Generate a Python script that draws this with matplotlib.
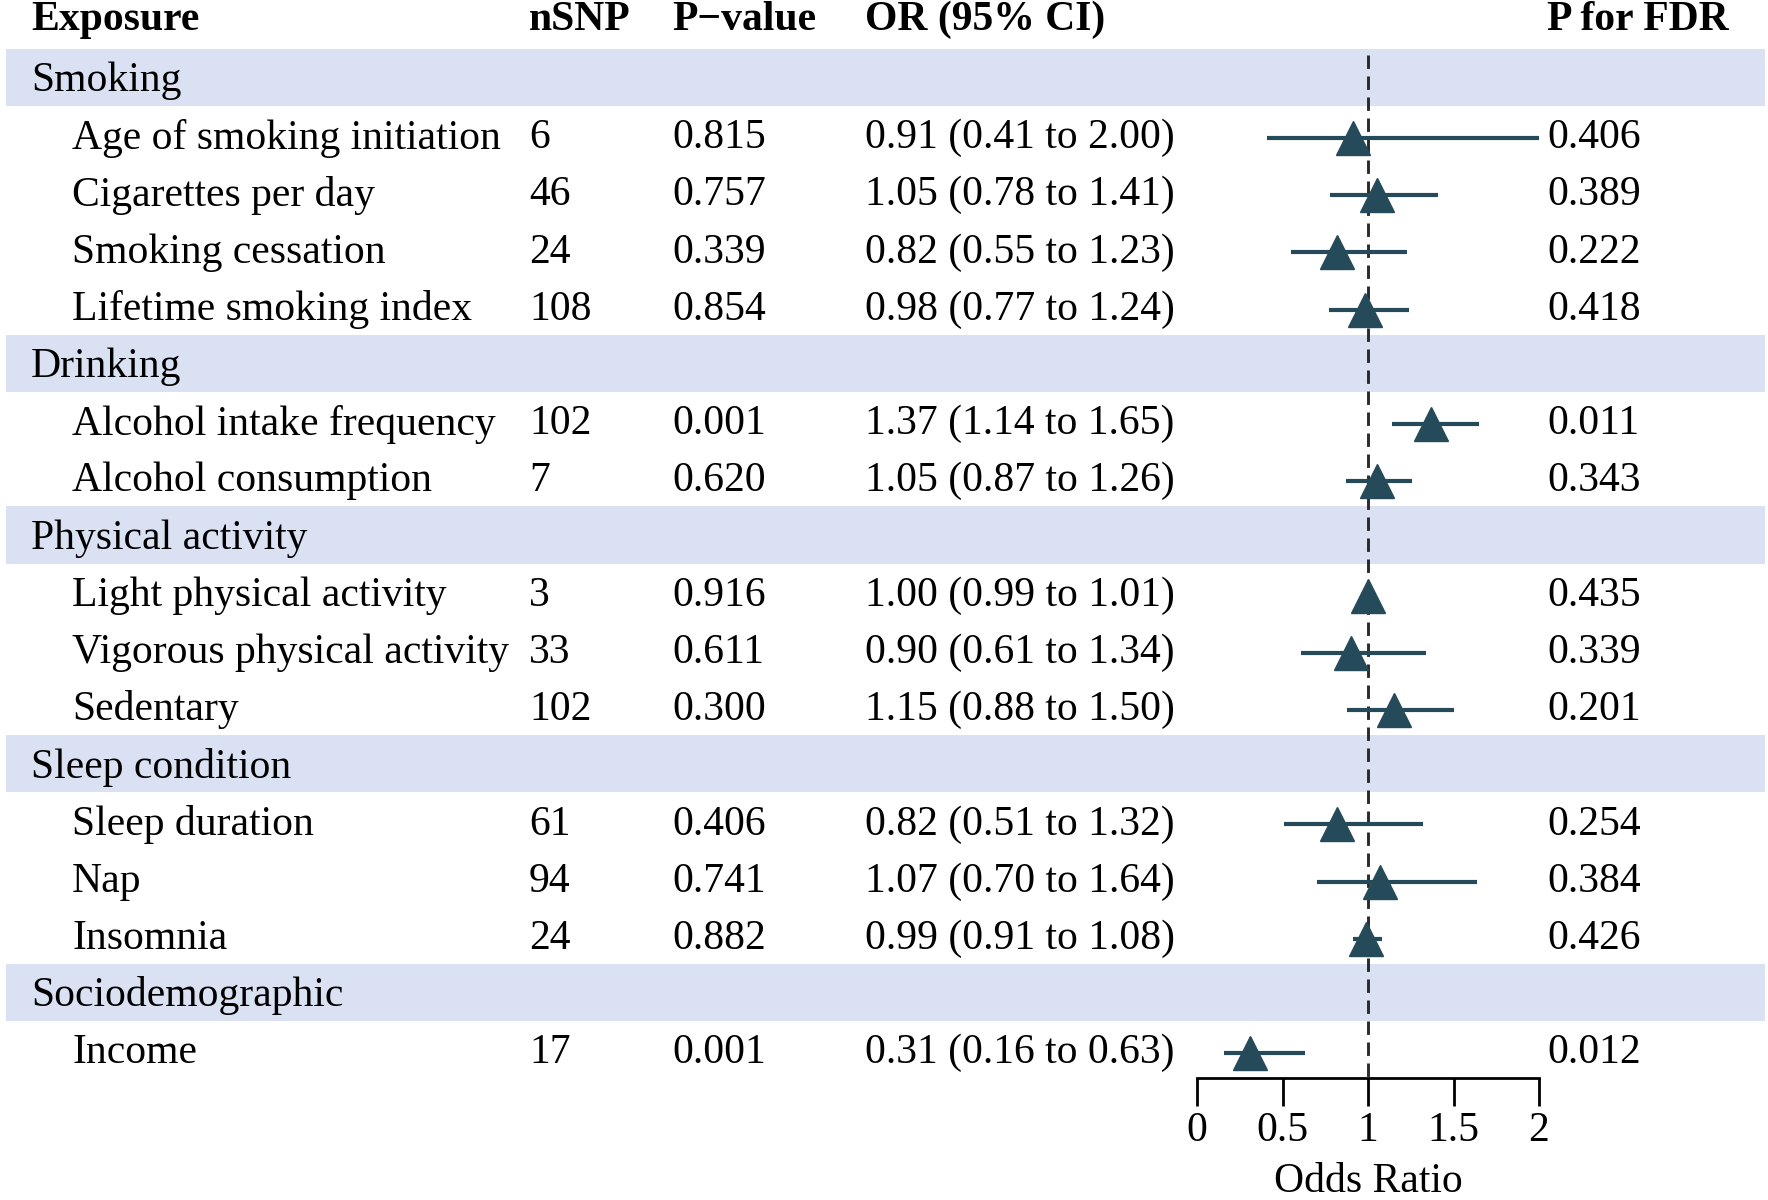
import matplotlib
matplotlib.use("Agg")
import matplotlib.pyplot as plt

plt.rcParams['font.family'] = ['Liberation Serif', 'DejaVu Serif']

# ---- data ----
groups = ["Smoking", "Drinking", "Physical activity", "Sleep condition", "Sociodemographic"]
group_items = [
    ["Age of smoking initiation", "Cigarettes per day", "Smoking cessation", "Lifetime smoking index"],
    ["Alcohol intake frequency", "Alcohol consumption"],
    ["Light physical activity", "Vigorous physical activity", "Sedentary"],
    ["Sleep duration", "Nap", "Insomnia"],
    ["Income"],
]
nsnp = [6, 46, 24, 108, 102, 7, 3, 33, 102, 61, 94, 24, 17]
pval = ["0.815", "0.757", "0.339", "0.854", "0.001", "0.620", "0.916", "0.611", "0.300",
        "0.406", "0.741", "0.882", "0.001"]
or_est = [0.91, 1.05, 0.82, 0.98, 1.37, 1.05, 1.00, 0.90, 1.15, 0.82, 1.07, 0.99, 0.31]
ci_low = [0.41, 0.78, 0.55, 0.77, 1.14, 0.87, 0.99, 0.61, 0.88, 0.51, 0.70, 0.91, 0.16]
ci_high = [2.00, 1.41, 1.23, 1.24, 1.65, 1.26, 1.01, 1.34, 1.50, 1.32, 1.64, 1.08, 0.63]
p_fdr = ["0.406", "0.389", "0.222", "0.418", "0.011", "0.343", "0.435", "0.339", "0.201",
         "0.254", "0.384", "0.426", "0.012"]
headers = ["Exposure", "nSNP", "P\u2212value", "OR (95% CI)", "P for FDR"]
x_ticks = [0, 0.5, 1, 1.5, 2]
x_ticklabels = ["0", "0.5", "1", "1.5", "2"]

# ---- styling ----
W, H = 1768, 1200
FS = 30
band_color = "#d9e1f3"
mark_color = "#254a59"
row_h = 57.2
top_row_px = 80.8

fig = plt.figure(figsize=(W / 100, H / 100), dpi=100)
ax = fig.add_axes([0, 0, 1, 1])
ax.set_xlim(0, W)
ylim = ((H - top_row_px) / row_h, -top_row_px / row_h)
ax.set_ylim(*ylim)
ax.axis("off")

col_x = [31, 529, 672, 865, 1547]
item_x = 72

# header
for hx, h in zip(col_x, headers):
    ax.text(hx, -1.07, h, fontsize=FS, fontweight="bold", va="center", ha="left")

# rows
rows = []  # (type, label, item index)
idx = 0
for g, items in zip(groups, group_items):
    rows.append(("g", g, None))
    for it in items:
        rows.append(("i", it, idx))
        idx += 1

item_rows = []
for r, (kind, label, i) in enumerate(rows):
    if kind == "g":
        ax.axhspan(r - 0.56, r + 0.44, xmin=6 / W, xmax=1765 / W, color=band_color, lw=0, zorder=0)
        ax.text(col_x[0], r, label, fontsize=FS, va="center", ha="left")
    else:
        item_rows.append(r)
        ax.text(item_x, r, label, fontsize=FS, va="center", ha="left")
        ax.text(col_x[1], r, str(nsnp[i]), fontsize=FS, va="center", ha="left")
        ax.text(col_x[2], r, pval[i], fontsize=FS, va="center", ha="left")
        ax.text(col_x[3], r, f"{or_est[i]:.2f} ({ci_low[i]:.2f} to {ci_high[i]:.2f})",
                fontsize=FS, va="center", ha="left")
        ax.text(col_x[4], r, p_fdr[i], fontsize=FS, va="center", ha="left")

# forest axes
fx0, fx1 = 1197 / W, 1539 / W
fax = fig.add_axes([fx0, 0, fx1 - fx0, 1], sharey=ax)
fax.patch.set_visible(False)
fax.set_xlim(0, 2)
axis_y = len(rows) - 0.56
fax.vlines(1, -0.45, axis_y, colors="#2a2a2a", linestyles=(0, (4.6, 2.6)), lw=2.1, zorder=2)
fax.hlines(item_rows, ci_low, ci_high, colors=mark_color, lw=3.0, zorder=3)
fax.plot(or_est, item_rows, linestyle="none", marker="^", markersize=25, color=mark_color, zorder=4)
for s in ["top", "left", "right"]:
    fax.spines[s].set_visible(False)
fax.spines["bottom"].set_position(("data", axis_y))
fax.spines["bottom"].set_linewidth(2.0)
fax.set_xticks(x_ticks)
fax.set_xticklabels(x_ticklabels, fontsize=FS)
fax.tick_params(axis="x", direction="out", length=20, width=2.0, pad=4)
fax.tick_params(axis="y", left=False, labelleft=False)
fax.set_xlabel("Odds Ratio", fontsize=FS, labelpad=9)
fax.set_ylim(*ylim)

fig.savefig("out.png", dpi=100)
